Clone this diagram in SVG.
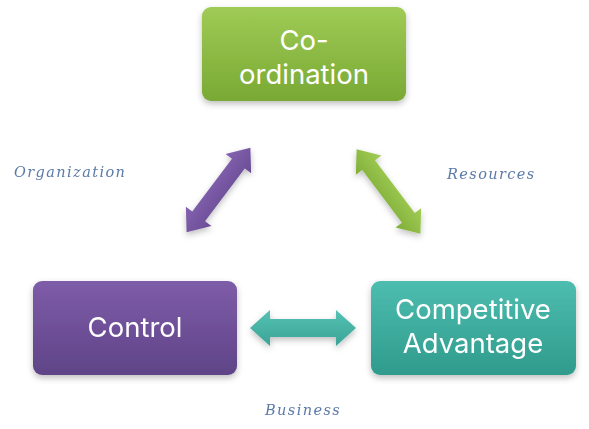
<svg xmlns="http://www.w3.org/2000/svg" width="589" height="429" viewBox="0 0 589 429">
<style>
.node-text{font-family:Inter,"Open Sans",sans-serif;font-size:27.5px;fill:#ffffff;text-anchor:middle}
.label{font-family:"DejaVu Serif","Liberation Serif",serif;font-style:italic;font-size:14.5px;fill:#5b7aa8;letter-spacing:1.4px}
</style>
<defs>
<linearGradient id="gGreen" x1="0" y1="0" x2="0" y2="1"><stop offset="0" stop-color="#9fcb55"/><stop offset="1" stop-color="#79a934"/></linearGradient>
<linearGradient id="gPurple" x1="0" y1="0" x2="0" y2="1"><stop offset="0" stop-color="#7e5ca9"/><stop offset="1" stop-color="#5f4487"/></linearGradient>
<linearGradient id="gTeal" x1="0" y1="0" x2="0" y2="1"><stop offset="0" stop-color="#4dbdaf"/><stop offset="1" stop-color="#2f9b8d"/></linearGradient>
<linearGradient id="aPurple" x1="0" y1="0" x2="0" y2="1"><stop offset="0" stop-color="#8462b0"/><stop offset="1" stop-color="#6a4c95"/></linearGradient>
<linearGradient id="aGreen" x1="0" y1="0" x2="0" y2="1"><stop offset="0" stop-color="#a2cd55"/><stop offset="1" stop-color="#7fae38"/></linearGradient>
<linearGradient id="aTeal" x1="0" y1="0" x2="0" y2="1"><stop offset="0" stop-color="#55c2b3"/><stop offset="1" stop-color="#3aa496"/></linearGradient>
<filter id="sh" x="-20%" y="-20%" width="140%" height="150%"><feDropShadow dx="0" dy="3" stdDeviation="3" flood-color="#000" flood-opacity="0.25"/></filter>
<path id="dbl" d="M -53,0 L -33,-16 L -33,-8 L 33,-8 L 33,-16 L 53,0 L 33,16 L 33,8 L -33,8 L -33,16 Z"/>
</defs>
<g id="connectors" filter="url(#sh)">
<use href="#dbl" fill="url(#aPurple)" transform="translate(218.5,190) rotate(-53)"/>
<use href="#dbl" fill="url(#aGreen)" transform="translate(388.5,191.5) rotate(53)"/>
<path fill="url(#aTeal)" d="M 250,328 L 270,310 L 270,319 L 336,319 L 336,310 L 356,328 L 336,346 L 336,337 L 270,337 L 270,346 Z"/>
</g>
<g id="node-coordination">
<rect x="202" y="7" width="204" height="94" rx="9" fill="url(#gGreen)" filter="url(#sh)"/>
<text class="node-text" x="304" y="50">Co-</text>
<text class="node-text" x="304" y="84">ordination</text>
</g>
<g id="node-control">
<rect x="33" y="281" width="204" height="94" rx="9" fill="url(#gPurple)" filter="url(#sh)"/>
<text class="node-text" x="135" y="337">Control</text>
</g>
<g id="node-competitive">
<rect x="371" y="281" width="205" height="94" rx="9" fill="url(#gTeal)" filter="url(#sh)"/>
<text class="node-text" x="473" y="319">Competitive</text>
<text class="node-text" x="473" y="353">Advantage</text>
</g>
<g id="labels">
<text class="label" x="14" y="177">Organization</text>
<text class="label" x="447" y="179">Resources</text>
<text class="label" x="265" y="415">Business</text>
</g>
</svg>
